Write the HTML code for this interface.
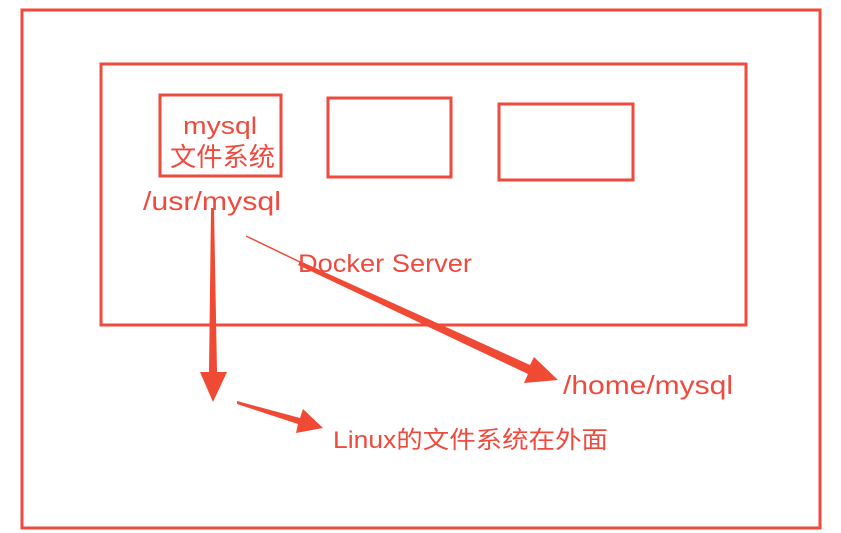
<!DOCTYPE html>
<html><head><meta charset="utf-8"><style>
html,body{margin:0;padding:0;background:#fff;}
svg{display:block}
text{fill:#ef4a3e;font-family:"Liberation Sans","Noto Sans CJK SC",sans-serif;}
</style></head><body>
<svg width="841" height="533" viewBox="0 0 841 533">
<g fill="none" stroke="#ef4a3e" stroke-width="3">
<rect x="22" y="10" width="798" height="518"/>
<rect x="101" y="64" width="645" height="261"/>
<rect x="160" y="95" width="121" height="81"/>
<rect x="328" y="98" width="123" height="79"/>
<rect x="499" y="104" width="134" height="76"/>
</g>
<g fill="#f04a35">
<polygon points="211,208 214,208 217,372 227,372 213,402 200,372 209,372"/>
<line x1="246" y1="236" x2="300" y2="262" stroke="#f04a35" stroke-width="1.5"/>
<polygon points="300,261 530,365 534,357 558,380 524,383 528,374 298,265"/>
<polygon points="237,401 300,418 303,409 323,428 296,433 298,424 237,404"/>
</g>
<text x="183" y="134" font-size="24" textLength="74" lengthAdjust="spacingAndGlyphs">mysql</text>
<text x="170" y="166" font-size="26" textLength="105" lengthAdjust="spacingAndGlyphs">文件系统</text>
<text x="143" y="210" font-size="26" textLength="138" lengthAdjust="spacingAndGlyphs">/usr/mysql</text>
<text x="298" y="272" font-size="25" textLength="174" lengthAdjust="spacingAndGlyphs">Docker Server</text>
<text x="563" y="394" font-size="26" textLength="170" lengthAdjust="spacingAndGlyphs">/home/mysql</text>
<text x="333" y="448" font-size="24" textLength="275" lengthAdjust="spacingAndGlyphs">Linux的文件系统在外面</text>
</svg>
</body></html>
